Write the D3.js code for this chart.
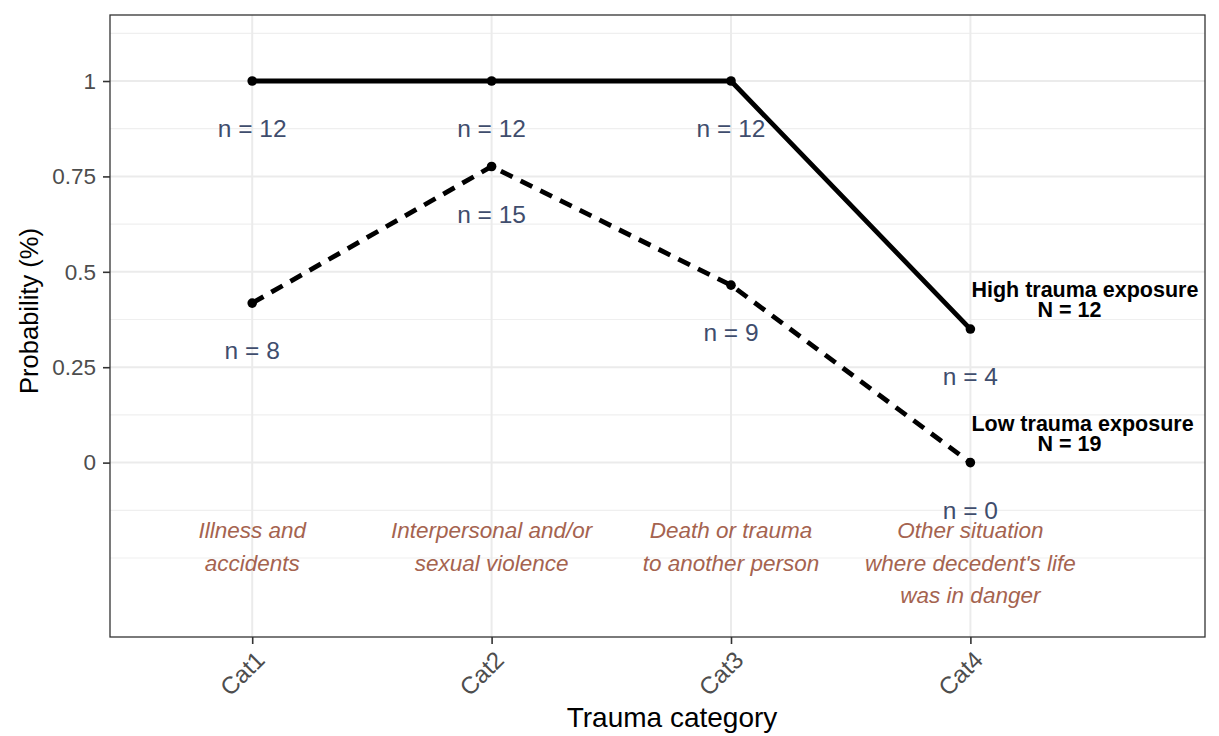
<!DOCTYPE html>
<html>
<head>
<meta charset="utf-8">
<script src="https://cdn.jsdelivr.net/npm/d3@7"></script>
<style>
  html, body { margin: 0; padding: 0; background: #fff; }
  svg { display: block; font-family: "Liberation Sans", Arial, Helvetica, sans-serif; }
</style>
</head>
<body>
<svg id="chart" width="1219" height="736"></svg>
<script>
const categories = ["Cat1", "Cat2", "Cat3", "Cat4"];
const highProb = [1, 1, 1, 0.35];
const lowProb = [0.418, 0.776, 0.465, 0];
const highN = [12, 12, 12, 4];
const lowN = [8, 15, 9, 0];
const catDescriptions = [
  ["Illness and", "accidents"],
  ["Interpersonal and/or", "sexual violence"],
  ["Death or trauma", "to another person"],
  ["Other situation", "where decedent's life", "was in danger"]
];
const yTicks = [0, 0.25, 0.5, 0.75, 1];
const yTickLabels = ["0", "0.25", "0.5", "0.75", "1"];
const yMinor = [-0.25, -0.125, 0.125, 0.375, 0.625, 0.875, 1.125];
const seriesNames = ["High trauma exposure", "Low trauma exposure"];
const seriesTotals = ["N = 12", "N = 19"];
const xTitle = "Trauma category";
const yTitle = "Probability (%)";

const svg = d3.select("#chart");
const panel = { left: 110, right: 1205, top: 15, bottom: 637 };

const x = d3.scaleLinear().domain([0.406, 4.98]).range([panel.left, panel.right]);
const y = d3.scaleLinear().domain([-0.457, 1.173]).range([panel.bottom, panel.top]);
const xc = i => x(i + 1);

// gridlines
const grid = svg.append("g");
grid.selectAll("line.minor").data(yMinor).join("line")
  .attr("x1", panel.left).attr("x2", panel.right)
  .attr("y1", d => y(d)).attr("y2", d => y(d))
  .attr("stroke", "#EFEFEF").attr("stroke-width", 1.2);
grid.selectAll("line.major").data(yTicks).join("line")
  .attr("x1", panel.left).attr("x2", panel.right)
  .attr("y1", d => y(d)).attr("y2", d => y(d))
  .attr("stroke", "#EBEBEB").attr("stroke-width", 2);
grid.selectAll("line.vmajor").data(categories).join("line")
  .attr("x1", (d, i) => xc(i)).attr("x2", (d, i) => xc(i))
  .attr("y1", panel.top).attr("y2", panel.bottom)
  .attr("stroke", "#EBEBEB").attr("stroke-width", 2);

// category descriptions
const descG = svg.append("g");
catDescriptions.forEach((lines, i) => {
  const t = descG.append("text")
    .attr("x", xc(i)).attr("y", y(-0.198))
    .attr("text-anchor", "middle")
    .attr("font-style", "italic")
    .attr("font-size", 22.5)
    .attr("fill", "#A5634F");
  lines.forEach((ln, j) => {
    t.append("tspan").attr("x", xc(i)).attr("dy", j === 0 ? 0 : 32.5).text(ln);
  });
});

// lines
const line = d3.line().x((d, i) => xc(i)).y(d => y(d));
svg.append("path").datum(highProb).attr("d", line)
  .attr("fill", "none").attr("stroke", "#000").attr("stroke-width", 4.8);
svg.append("path").datum(lowProb).attr("d", line)
  .attr("fill", "none").attr("stroke", "#000").attr("stroke-width", 4.8)
  .attr("stroke-dasharray", "13,9");

[highProb, lowProb].forEach(arr => {
  svg.append("g").selectAll("circle").data(arr).join("circle")
    .attr("cx", (d, i) => xc(i)).attr("cy", d => y(d)).attr("r", 4.8).attr("fill", "#000");
});

// n labels
[[highProb, highN], [lowProb, lowN]].forEach(([vals, ns]) => {
  svg.append("g").selectAll("text").data(vals).join("text")
    .attr("x", (d, i) => xc(i)).attr("y", d => y(d - 0.125))
    .attr("dy", "0.35em")
    .attr("text-anchor", "middle")
    .attr("font-size", 24.5)
    .attr("fill", "#3F4D6D")
    .text((d, i) => "n = " + ns[i]);
});

// series labels
[highProb, lowProb].forEach((vals, s) => {
  const v = vals[3];
  svg.append("text").attr("x", xc(3) + 1).attr("y", y(v) - 32)
    .attr("font-weight", "bold").attr("font-size", 21.5).attr("fill", "#000")
    .text(seriesNames[s]);
  svg.append("text").attr("x", xc(3) + 67).attr("y", y(v) - 12)
    .attr("font-weight", "bold").attr("font-size", 21.5).attr("fill", "#000")
    .text(seriesTotals[s]);
});

// panel border
svg.append("rect")
  .attr("x", panel.left).attr("y", panel.top)
  .attr("width", panel.right - panel.left).attr("height", panel.bottom - panel.top)
  .attr("fill", "none").attr("stroke", "#333").attr("stroke-width", 1.3);

// y axis
const yAxis = svg.append("g").attr("transform", `translate(${panel.left},0)`)
  .call(d3.axisLeft(y).tickValues(yTicks).tickFormat((d, i) => yTickLabels[i]).tickSize(7).tickPadding(7));
yAxis.select(".domain").remove();
yAxis.selectAll("line").attr("stroke", "#333").attr("stroke-width", 1.6);
yAxis.selectAll("text").attr("font-size", 22.5).attr("fill", "#4D4D4D")
  .attr("font-family", "Liberation Sans, Arial, sans-serif");

// x axis
const xAxis = svg.append("g").attr("transform", `translate(0,${panel.bottom})`)
  .call(d3.axisBottom(x).tickValues([1, 2, 3, 4]).tickFormat(d => categories[d - 1]).tickSize(7));
xAxis.select(".domain").remove();
xAxis.selectAll("line").attr("stroke", "#333").attr("stroke-width", 1.6);
xAxis.selectAll("text")
  .attr("font-size", 24).attr("fill", "#4D4D4D")
  .attr("font-family", "Liberation Sans, Arial, sans-serif")
  .attr("text-anchor", "end")
  .attr("dy", null)
  .attr("y", 0)
  .attr("dominant-baseline", "hanging")
  .attr("transform", "translate(1,12) rotate(-45)");

// titles
svg.append("text").attr("x", 672).attr("y", 727)
  .attr("text-anchor", "middle").attr("font-size", 28).attr("fill", "#000").text(xTitle);
svg.append("text").attr("transform", "translate(38,311) rotate(-90)")
  .attr("text-anchor", "middle").attr("font-size", 25.5).attr("fill", "#000").text(yTitle);
</script>
</body>
</html>
